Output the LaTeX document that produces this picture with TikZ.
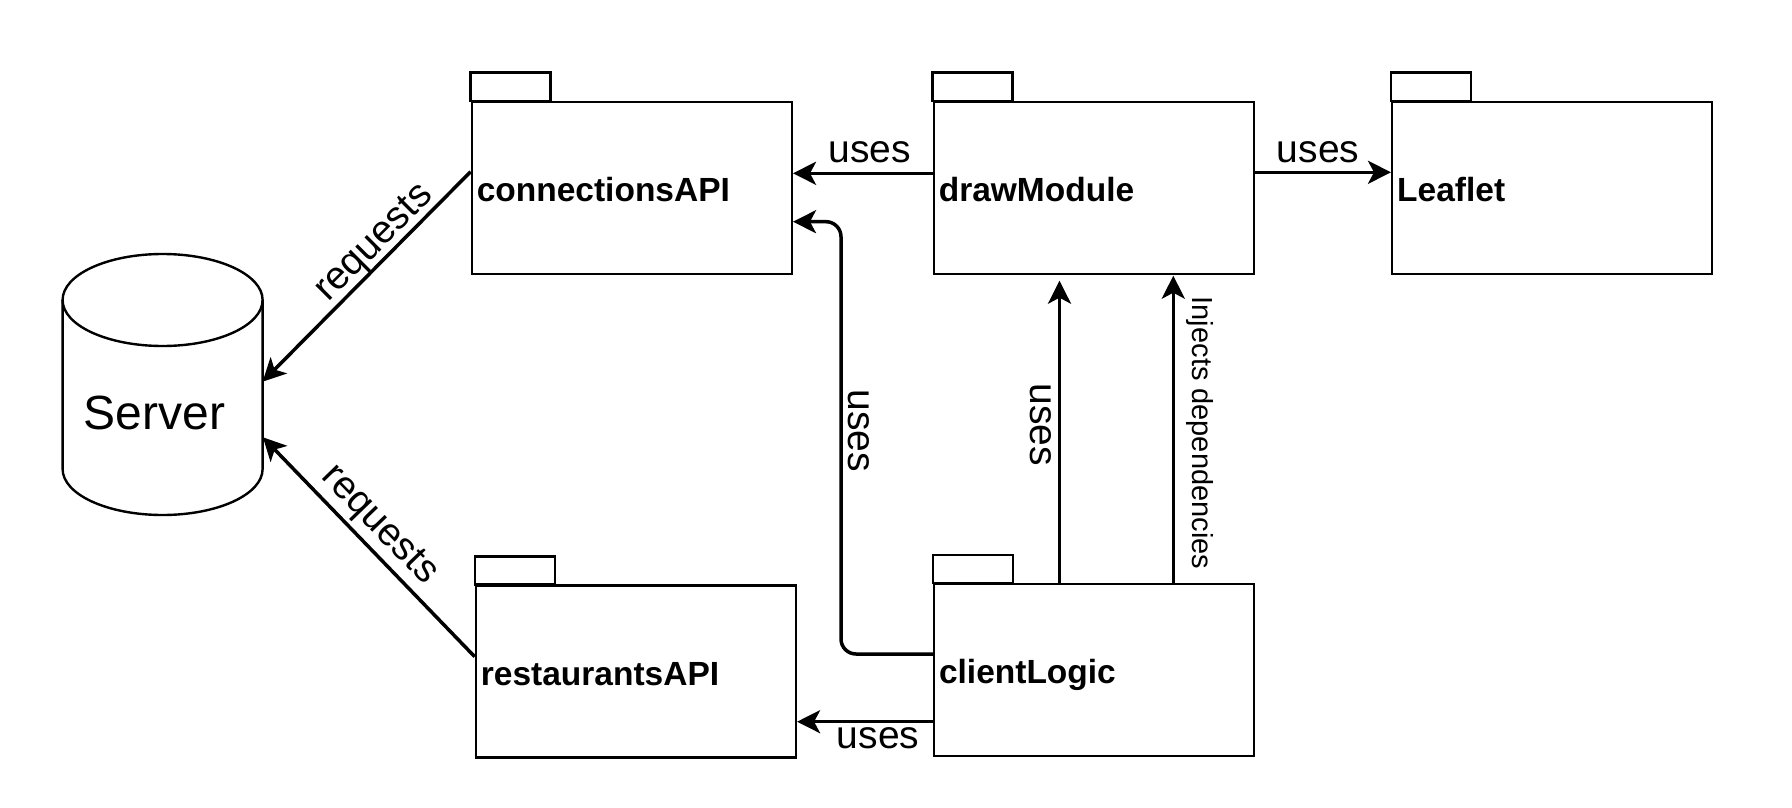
\documentclass[tikz,border=0pt]{standalone}
\usepackage{fontspec}
\setmainfont{Liberation Sans}
\usetikzlibrary{arrows.meta,calc}
\begin{document}
\begin{tikzpicture}[x=1pt,y=-1pt,
 box/.style={draw=black, line width=2.4pt},
 pkg/.style={box, anchor=north west, minimum width=320pt, minimum height=172pt, text width=310pt, inner xsep=5pt, inner ysep=0pt, align=left, text height=27pt, text depth=0pt, font=\bfseries\fontsize{33.5}{40}\selectfont},
 conn/.style={line width=3.5pt, -{Stealth[length=23pt,width=23pt,inset=6pt]}},
 elbl/.style={font=\fontsize{39}{44}\selectfont, inner sep=0pt},
]
\useasboundingbox (0,0) rectangle (1792,808);
% packages
\node[pkg] (connapi) at (470.6,100.7) {connectionsAPI};
\node[pkg] (drawm) at (932.6,100.7) {drawModule};
\node[pkg] (leaf) at (1391,100.7) {Leaflet};
\node[pkg] (rest) at (474.7,584.3) {restaurantsAPI};
\node[pkg] (client) at (932.8,582.7) {clientLogic};
\foreach \n in {connapi,drawm,leaf,rest,client}
  \draw[box] (\n.north west) rectangle ++(80,-28);
% server cylinder
\draw[box] (162.6,300) ellipse [x radius=100pt, y radius=46pt];
\draw[box] (62.6,300) -- (62.6,469) .. controls (62.6,494.4) and (107.4,515) .. (162.6,515) .. controls (217.8,515) and (262.6,494.4) .. (262.6,469) -- (262.6,300);
\node[font=\fontsize{48}{56}\selectfont, anchor=base, inner sep=0pt] (srv) at (154.5,429) {Server};
\coordinate (s1) at (262.6,381.7);
\coordinate (s2) at (262.9,437.3);
% connectors
\draw[conn] ($(drawm.north west)+(0,72.6)$) -- ($(connapi.north east)+(0,72.6)$);
\draw[conn] ($(drawm.north east)+(0,71.6)$) -- ($(leaf.north west)+(0,71.6)$);
\draw[conn, rounded corners=15pt] ($(client.north west)+(0,71.3)$) -- ++(-91.8,0) |- ($(connapi.north east)+(0,121)$);
\draw[conn] ($(client.north west)+(0,139)$) -- ($(rest.north east)+(0,137.4)$);
\draw[conn] ($(client.north west)+(126.7,0)$) -- ($(drawm.south west)+(126.9,5.6)$);
\draw[conn] ($(client.north west)+(240.5,0)$) -- ($(drawm.south west)+(240.7,0.6)$);
\draw[conn] ($(connapi.north west)+(0,71)$) -- (s1);
\draw[conn] ($(rest.north west)+(0,72.4)$) -- (s2);
% labels
\node[elbl, anchor=base] (l1) at (869.8,162) {uses};
\node[elbl, anchor=base] (l2) at (1318,162.5) {uses};
\node[elbl, anchor=base] (l4) at (878,748) {uses};
\node[elbl, rotate=-90] (l3) at (858.5,431) {uses};
\node[elbl, rotate=-90] (l5) at (1041,425) {uses};
\node[elbl, rotate=-90, font=\fontsize{29}{34}\selectfont] (l6) at (1200,433) {Injects dependencies};
\node[elbl, rotate=45] (l7) at (375,244) {requests};
\node[elbl, rotate=-46] (l8) at (378.8,525.8) {requests};
\end{tikzpicture}
\end{document}
